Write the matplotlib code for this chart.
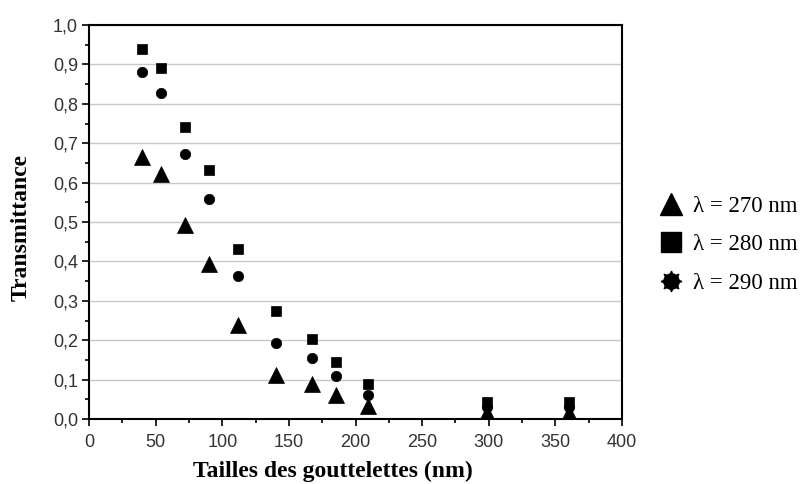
import numpy as np
import matplotlib.pyplot as plt
from matplotlib.lines import Line2D
from matplotlib.ticker import MultipleLocator, FuncFormatter

# droplet sizes (nm)
taille = [40, 54, 72, 90, 112, 140, 167, 185, 209, 299, 360]

# transmittance at each wavelength
t270 = [0.665, 0.623, 0.492, 0.394, 0.239, 0.111, 0.090, 0.061, 0.034, 0.015, 0.015]
t280 = [0.939, 0.890, 0.740, 0.633, 0.431, 0.273, 0.203, 0.145, 0.090, 0.044, 0.044]
t290 = [0.882, 0.827, 0.673, 0.559, 0.362, 0.194, 0.154, 0.108, 0.062, 0.030, 0.030]

labels = ['λ = 270 nm', 'λ = 280 nm', 'λ = 290 nm']

fig = plt.figure(figsize=(8.07, 4.84), dpi=100)
ax = fig.add_axes([0.1103, 0.1343, 0.6605, 0.814])

ax.plot(taille, t270, ls='none', marker='^', ms=11, mew=0.5, color='black')
ax.plot(taille, t280, ls='none', marker='s', ms=7, mew=0.5, color='black')
ax.plot(taille, t290, ls='none', marker='o', ms=7.5, mew=0.5, color='black')

ax.set_xlim(0, 400)
ax.set_ylim(0, 1.0)
ax.xaxis.set_major_locator(MultipleLocator(50))
ax.xaxis.set_minor_locator(MultipleLocator(25))
ax.yaxis.set_major_locator(MultipleLocator(0.1))
ax.yaxis.set_minor_locator(MultipleLocator(0.05))
ax.yaxis.set_major_formatter(FuncFormatter(lambda v, p: f'{v:.1f}'.replace('.', ',')))
ax.grid(axis='y', color='#c8c8c8', lw=1)
ax.set_axisbelow(True)
for s in ax.spines.values():
    s.set_linewidth(1.5)
ax.tick_params(which='both', direction='out', width=1.2, colors='black')
ax.tick_params(which='major', length=5, labelsize=13)
ax.tick_params(which='minor', length=3)
ax.tick_params(axis='x', which='major', pad=6)
ax.tick_params(axis='y', which='major', pad=3)
for t in ax.get_xticklabels() + ax.get_yticklabels():
    t.set_family('Liberation Sans')
    t.set_color('#333333')

ax.set_xlabel('Tailles des gouttelettes (nm)', family='Liberation Serif',
              fontweight='bold', fontsize=17)
ax.set_ylabel('Transmittance', family='Liberation Serif',
              fontweight='bold', fontsize=17)
ax.xaxis.set_label_coords(0.458, -0.105)
ax.yaxis.set_label_coords(-0.108, 0.485)

# legend: the 290 nm symbol is a rounded eight-point star
star = (Line2D([], [], ls='none', marker='o', ms=11, color='black'),
        Line2D([], [], ls='none', marker=(8, 1, 0), ms=15, color='black'))
handles = [
    Line2D([], [], ls='none', marker='^', ms=15.5, color='black'),
    Line2D([], [], ls='none', marker='s', ms=15, color='black'),
    star,
]
fig.legend(handles, labels, loc='center left', bbox_to_anchor=(0.803, 0.494),
           frameon=False, prop={'family': 'Liberation Serif', 'size': 16.5},
           handlelength=1.0, handletextpad=0.45, labelspacing=0.75, borderpad=0)

fig.savefig('out.png', dpi=100)
